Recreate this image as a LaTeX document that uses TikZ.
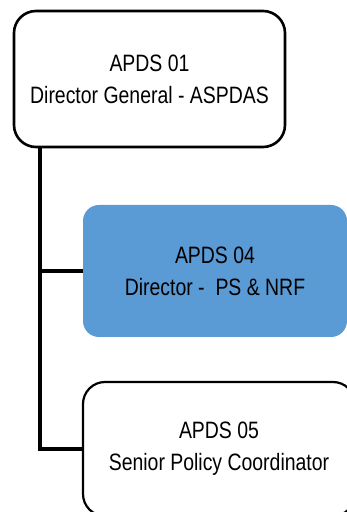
\documentclass[tikz,border=0pt]{standalone}
\usepackage{fontspec}
\setmainfont{Liberation Sans}[FakeStretch=0.82]
\definecolor{officeblue}{HTML}{5B9BD5}
\begin{document}
\begin{tikzpicture}[x=1pt,y=1pt,
  post/.style={rounded corners=22pt,align=center,inner sep=0pt,
    font=\fontsize{23.7}{32}\selectfont},
  link/.style={line width=4pt}]
\path[use as bounding box,clip] (0,0) rectangle (347,512);
\node[post,draw,line width=2.6pt,minimum width=271pt,minimum height=136pt] (dg) at (149.5,433) {APDS 01\\Director General - ASPDAS};
\node[post,fill=officeblue,rounded corners=16pt,minimum width=264pt,minimum height=132pt] (ps) at (215,241) {APDS 04\\Director -\ \ PS \& NRF};
\node[post,draw,line width=2.2pt,minimum width=272pt,minimum height=134pt] (spc) at (219,63) {APDS 05\\Senior Policy Coordinator};
\coordinate (spine) at ([xshift=27pt]dg.south west);
\draw[link] (spine) |- (spc.west);
\draw[link] (ps.west) -- (ps.west -| spine);
\end{tikzpicture}
\end{document}
